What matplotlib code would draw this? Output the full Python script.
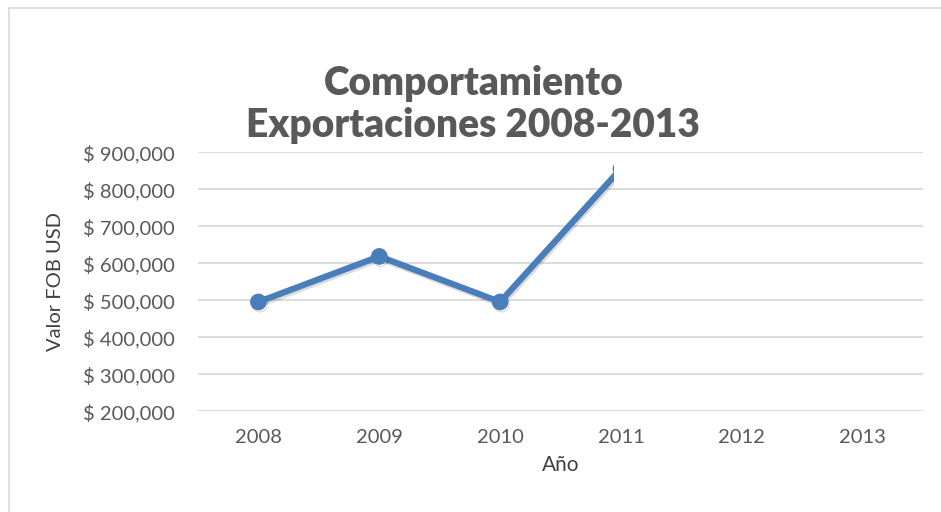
import matplotlib
matplotlib.use("Agg")
import matplotlib.pyplot as plt
from matplotlib.ticker import FuncFormatter, MultipleLocator
from matplotlib.patches import Rectangle
from matplotlib.lines import Line2D
import matplotlib.patheffects as pe

# Export values (FOB USD) per year
years = ["2008", "2009", "2010", "2011", "2012", "2013"]
values = [495000, 618000, 495000, 855000]

title = "Comportamiento\nExportaciones 2008-2013"
x_label = "Año"
y_label = "Valor FOB USD"

plt.rcParams["font.family"] = ["Lato", "DejaVu Sans"]

fig = plt.figure(figsize=(9.41, 5.12), dpi=100)
fig.patch.set_facecolor("white")
ax = fig.add_axes([0.2104, 0.197, 0.7706, 0.506])

text_gray = "#595959"
grid_gray = "#d9d9d9"
line_blue = "#4a7ebb"

x = list(range(len(values)))
line, = ax.plot(x, values, color=line_blue, lw=4.5, marker="o", ms=11,
                solid_joinstyle="round", zorder=3,
                path_effects=[pe.SimpleLineShadow(offset=(1.0, -1.6), shadow_color="black", alpha=0.14),
                              pe.Normal()])

# the series is cut at the right just before the last drawn point
clip = Rectangle((-0.5, 0), 2.94 + 0.5, 2e6, transform=ax.transData)
line.set_clip_path(clip)

ax.set_xlim(-0.5, len(years) - 0.5)
ax.set_ylim(200000, 900000)
ax.set_xticks(range(len(years)))
ax.set_xticklabels(years)
ax.yaxis.set_major_locator(MultipleLocator(100000))
ax.yaxis.set_major_formatter(FuncFormatter(lambda v, p: "$ {:,.0f}".format(v)))

ax.grid(axis="y", color=grid_gray, lw=1.3)
ax.set_axisbelow(True)
for s in ax.spines.values():
    s.set_visible(False)
ax.tick_params(axis="both", length=0, labelsize=14.5, colors=text_gray)
ax.tick_params(axis="x", pad=13)
ax.tick_params(axis="y", pad=17)

ax.set_xlabel(x_label, fontsize=15, color="#404040", labelpad=6)
ax.set_ylabel(y_label, fontsize=14.5, color="#404040", labelpad=13)

fig.text(0.503, 0.796, title, ha="center", va="center", fontsize=28,
         fontweight="heavy", color=text_gray, linespacing=1.17)

# outer chart frame (left and top edges)
fig.add_artist(Line2D([8.5 / 941, 8.5 / 941], [0, 1 - 7.5 / 512], transform=fig.transFigure,
                      color=grid_gray, lw=1.2))
fig.add_artist(Line2D([8.5 / 941, 1], [1 - 7.5 / 512, 1 - 7.5 / 512], transform=fig.transFigure,
                      color=grid_gray, lw=1.2))

fig.savefig("out.png", dpi=100, facecolor="white")
